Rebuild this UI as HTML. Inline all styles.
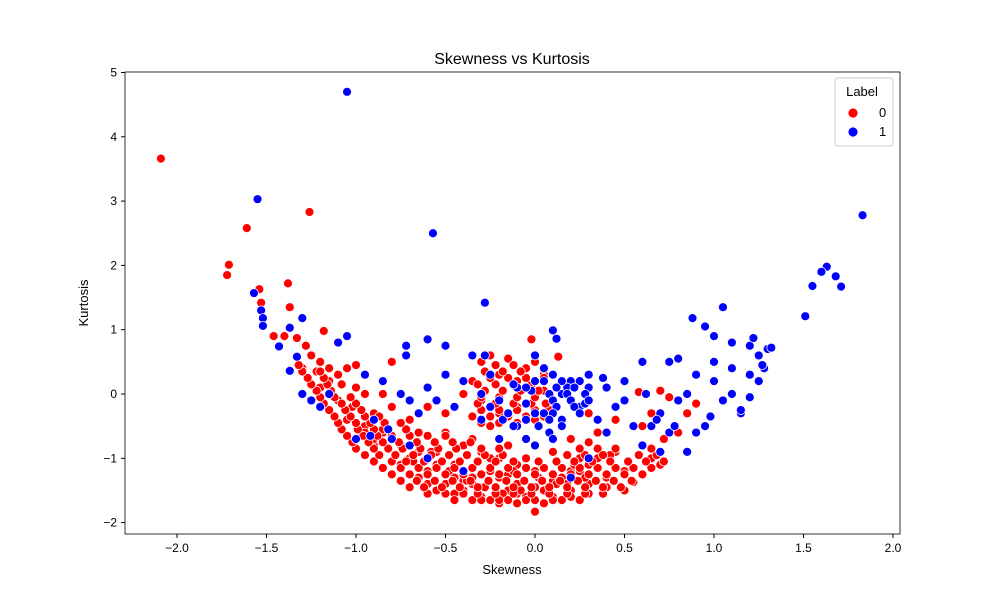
<!DOCTYPE html>
<html><head><meta charset="utf-8"><style>
body{margin:0;background:#fff;}
svg{display:block;font-family:"Liberation Sans","DejaVu Sans",sans-serif;}
</style></head><body>
<svg id="chart" width="1000" height="600">
<rect width="1000" height="600" fill="#fff"/>
<text x="512" y="64" text-anchor="middle" font-size="16">Skewness vs Kurtosis</text>
<g id="marks"></g>
<g id="axes"></g>
<text x="512" y="574" text-anchor="middle" font-size="13">Skewness</text>
<text x="88" y="303" text-anchor="middle" font-size="13" transform="rotate(-90 88 303)">Kurtosis</text>
<g>
<rect x="835" y="78" width="58" height="68" rx="3" fill="#fff" fill-opacity="0.8" stroke="#ccc"/>
<text x="862" y="96" text-anchor="middle" font-size="13">Label</text>
<g><circle cx="853" cy="113" r="5" fill="#ff0000" stroke="#fff" stroke-width="0.8"/><text x="879" y="117" font-size="13">0</text></g>
<g><circle cx="853" cy="132" r="5" fill="#0000ff" stroke="#fff" stroke-width="0.8"/><text x="879" y="136" font-size="13">1</text></g>
</g>
</svg>
<script>
const xTicks=[-2.0,-1.5,-1.0,-0.5,0.0,0.5,1.0,1.5,2.0];
const yTicks=[-2,-1,0,1,2,3,4,5];
const redX=[-2.09,-1.72,-1.71,-1.61,-1.26,-1.54,-1.53,-1.38,-1.37,-1.40,-1.46,-1.33,-1.28,-1.18,-1.25,-1.2,-1.15,-1.1,-1.22,-1.05,-1.0,-1.08,-1.0,-0.95,-1.02,-0.9,-0.95,-0.85,-0.8,-0.75,-0.7,-0.65,-0.6,-0.55,-0.5,-0.45,-0.4,-0.35,-0.3,-0.25,-0.2,-0.15,-0.1,-0.05,0.0,0.05,0.1,0.15,0.2,0.25,0.3,0.35,0.4,0.45,0.5,0.55,0.6,0.65,0.7,0.72,0.75,0.7,0.85,0.9,0.8,-0.3,-0.25,-0.2,-0.15,-0.1,-0.05,0.0,0.05,-0.02,0.13,-0.35,-0.4,-0.3,-0.2,-0.1,0.0,0.1,0.05,-0.25,-0.15,-0.05,0.1,0.2,-0.5,-0.6,-0.7,-0.8,-0.9,-0.75,-0.65,-0.55,-0.45,-0.35,-0.25,-0.1,0.05,0.2,0.3,0.4,0.5,-0.4,-0.3,-0.2,-0.1,0.0,-0.5,-0.85,-1.1,-1.3,-1.2,0.3,0.35,0.45,0.6,0.58,0.65,-0.6,-0.5,-0.4,-0.3,-0.2,-0.1,0.0,0.1,0.2,0.3,-0.7,-0.55,-0.45,-0.35,-0.15,0.15,0.25,0.35,-0.85,-0.95,-1.05,-0.65,-0.35,-0.25,-0.12,0.02,0.12,0.22,0.42,0.55,-0.48,-0.38,-0.28,-0.18,-0.08,0.08,0.18,0.28,-0.78,-0.68,-0.58,-0.9,-1.15];
const redY=[3.66,1.85,2.01,2.58,2.83,1.63,1.42,1.72,1.35,0.90,0.90,0.87,0.75,0.98,0.6,0.5,0.4,0.3,0.35,0.4,0.45,0.15,0.1,0.0,-0.2,-0.3,-0.5,-0.6,-0.2,-0.8,-1.0,-0.6,-1.2,-0.9,-1.4,-1.1,-1.5,-1.3,-1.6,-1.2,-1.7,-1.5,-1.4,-1.6,-1.83,-1.5,-1.6,-1.3,-1.5,-1.2,-1.4,-1.0,-1.3,-0.9,-1.2,-1.37,-0.8,-1.0,-1.1,-0.7,-0.05,0.05,-0.3,-0.15,-0.6,0.5,0.6,0.3,0.55,0.2,0.4,0.5,0.3,0.85,0.58,0.2,0.0,-0.1,-0.3,-0.2,-0.4,-0.1,0.05,-0.5,-0.8,-1.0,-0.9,-0.7,-0.3,-0.2,-0.4,0.5,-0.8,-1.1,-1.3,-1.5,-1.55,-1.4,-1.65,-1.7,-1.7,-1.6,-1.55,-1.45,-1.5,-0.8,-0.9,-1.0,-1.1,-1.2,-0.6,0.0,-0.1,0.4,0.1,-0.3,-0.6,-0.4,-0.5,0.03,-0.3,-1.4,-1.25,-1.35,-1.45,-1.3,-1.55,-1.45,-1.35,-1.2,-1.1,-1.25,-1.1,-1.3,-1.15,-1.25,-1.15,-1.0,-0.85,-0.55,-0.6,-0.4,-0.9,-0.7,-1.0,-1.2,-1.3,-1.4,-1.1,-0.95,-1.15,-1.2,-1.35,-1.45,-1.55,-1.5,-1.45,-1.4,-1.3,-0.95,-1.05,-0.9,-0.7,0.2];
// dense red band, stored row by row (kurtosis level -> skewness values)
const denseRedY=[-1.65,-1.55,-1.45,-1.35,-1.25,-1.15,-1.05,-0.95,-0.85,-0.75,-0.65,-0.55,-0.45,-0.35,-0.25,-0.15,-0.05,0.05,0.15,0.25,0.35,0.45];
const denseRedX=[
[-0.45,-0.35,-0.3,-0.2,-0.15,-0.05,0.0,0.1,0.15,0.25],
[-0.6,-0.5,-0.4,-0.32,-0.22,-0.12,-0.02,0.08,0.18,0.28,0.38],
[-0.7,-0.62,-0.52,-0.42,-0.32,-0.22,-0.12,-0.02,0.08,0.18,0.28,0.38,0.48],
[-0.75,-0.66,-0.56,-0.46,-0.36,-0.26,-0.16,-0.06,0.04,0.14,0.24,0.34,0.44,0.54],
[-0.8,-0.7,-0.6,-0.5,-0.4,-0.3,-0.2,-0.1,0.0,0.1,0.2,0.3,0.4,0.5,0.6],
[-0.85,-0.75,-0.65,-0.55,-0.45,-0.35,-0.25,-0.15,-0.05,0.05,0.15,0.25,0.35,0.45,0.55,0.65],
[-0.9,-0.8,-0.72,-0.62,-0.52,-0.42,-0.32,-0.22,-0.12,0.02,0.12,0.22,0.32,0.42,0.52,0.62,0.72],
[-0.95,-0.87,-0.78,-0.68,-0.58,-0.48,-0.38,-0.28,-0.18,0.18,0.28,0.38,0.58,0.68],
[-1.0,-0.9,-0.82,-0.74,-0.64,-0.54,-0.44,-0.3,-0.2,0.25,0.45,0.65],
[-1.02,-0.93,-0.85,-0.76,-0.66,-0.56,-0.46,-0.36,0.3],
[-1.05,-0.96,-0.88,-0.8,-0.7,-0.6,-0.5],
[-1.08,-0.99,-0.9,-0.82,-0.72],
[-1.1,-1.0,-0.92,-0.84,-0.75,-0.3,-0.2,-0.1],
[-1.12,-1.03,-0.95,-0.87,-0.35,-0.25,-0.15,-0.05,0.05],
[-1.15,-1.06,-0.97,-0.3,-0.2,-0.1,0.0,0.08],
[-1.18,-1.08,-1.0,-0.32,-0.22,-0.12,-0.02,0.06],
[-1.2,-1.12,-1.03,-0.3,-0.2,-0.1,0.0],
[-1.22,-1.14,-0.28,-0.18,-0.08,0.02],
[-1.25,-1.16,-0.32,-0.22,-0.12,-0.02],
[-1.27,-1.18,-0.25,-0.15,-0.05,0.05],
[-1.3,-1.2,-0.28,-0.18,-0.08],
[-1.32,-0.22,-0.12]];
const blueX=[-1.05,-1.55,-0.57,1.83,1.63,1.6,1.68,1.71,1.55,1.51,-0.28,-1.57,-1.53,-1.52,-1.52,-1.37,-1.3,-1.33,-1.37,-1.43,-1.05,-1.1,-0.72,-0.72,-0.5,-0.6,-1.15,-1.0,-0.9,-0.8,-0.7,-0.6,-0.5,-0.4,-0.3,-0.2,-0.1,0.0,0.1,0.15,0.2,0.25,0.3,0.35,0.1,0.12,0.0,-0.1,-0.2,0.05,0.4,0.5,0.5,0.6,0.55,0.6,0.65,0.7,0.75,0.8,0.85,0.9,0.88,0.95,1.0,1.05,1.1,1.2,1.22,1.25,1.3,1.32,1.2,1.25,1.15,1.1,1.05,1.0,0.95,0.9,0.85,1.2,1.28,0.7,0.3,0.2,-0.4,-0.6,-0.7,-0.3,-0.25,-0.35,-0.28,0.2,0.3,0.08,0.0,-0.15,-0.05,0.15,0.05,0.4,0.45,0.62,0.8,0.75,1.0,1.1,-0.95,-0.85,-0.75,-0.65,-0.45,-0.55,-1.25,-1.2,-1.3,-0.12,-0.02,0.18,0.28,0.38,-0.18,0.68,0.78,0.98,1.15,1.27,-0.82,-0.92,0.05,0.15,0.25,-0.05,0.12,0.22,0.08,0.18,0.28,0.1,0.2,0.3,-0.25,0.12,0.22,-0.15,0.0,0.1,0.25,-0.05,0.08,-0.12,0.02,0.15,-0.05,0.1];
const blueY=[4.7,3.03,2.5,2.78,1.98,1.9,1.83,1.67,1.68,1.21,1.42,1.57,1.3,1.18,1.06,1.03,1.18,0.58,0.36,0.74,0.9,0.8,0.75,0.6,0.75,0.85,0.0,-0.7,-0.4,-0.7,-0.1,0.1,0.3,0.2,0.0,-0.1,0.1,0.2,0.3,0.0,0.2,-0.2,0.1,-0.4,0.99,0.86,0.6,-0.5,-0.7,-0.3,-0.6,-0.1,0.2,0.5,-0.5,-0.8,-0.5,-0.3,-0.6,-0.1,0.0,0.3,1.18,1.05,0.9,1.35,0.8,0.75,0.87,0.6,0.7,0.72,0.3,0.2,-0.3,0.0,-0.1,0.2,-0.5,-0.6,-0.9,-0.05,0.4,-0.9,-1.0,-1.3,-1.2,-1.0,-0.8,-0.4,0.3,0.6,0.6,-0.1,0.3,-0.6,-0.8,-0.3,-0.15,-0.4,0.4,0.1,-0.2,0.0,0.55,0.5,0.5,0.4,0.3,0.2,0.0,-0.3,-0.2,-0.1,-0.1,-0.2,0.0,0.15,0.05,0.1,-0.15,0.25,-0.4,-0.4,-0.5,-0.35,-0.25,0.45,-0.55,-0.65,0.2,0.2,0.2,0.1,0.1,0.1,0.0,0.0,0.0,-0.1,-0.1,-0.1,-0.2,-0.2,-0.2,-0.3,-0.3,-0.3,-0.3,-0.4,-0.4,-0.5,-0.5,-0.5,-0.7,-0.7];

const L=125,R=900,T=72,B=534;
function sx(v){return 535+v*179;}
function sy(v){return 394-v*64.3;}
const NS='http://www.w3.org/2000/svg';
const marks=document.getElementById('marks');
const axes=document.getElementById('axes');
function pt(x,y,c,name){
  const e=document.createElementNS(NS,'circle');
  e.setAttribute('cx',sx(x));e.setAttribute('cy',sy(y));e.setAttribute('r',4.5);
  e.setAttribute('fill',c);e.setAttribute('stroke','#fff');e.setAttribute('stroke-width','0.8');
  
  
  marks.appendChild(e);
}
for(let i=0;i<redX.length;i++){pt(redX[i],redY[i],'#ff0000','point-label-0');}
for(let r=0;r<denseRedY.length;r++){for(let j=0;j<denseRedX[r].length;j++){pt(denseRedX[r][j],denseRedY[r],'#ff0000','point-label-0');}}
for(let i=0;i<blueX.length;i++){pt(blueX[i],blueY[i],'#0000ff','point-label-1');}
const frame=document.createElementNS(NS,'rect');
frame.setAttribute('x',L);frame.setAttribute('y',T);frame.setAttribute('width',R-L);frame.setAttribute('height',B-T);
frame.setAttribute('fill','none');frame.setAttribute('stroke','#000');frame.setAttribute('stroke-width','0.8');


axes.appendChild(frame);
function fmt(v,d){return (v<0?'\u2212':'')+Math.abs(v).toFixed(d);}
xTicks.forEach(v=>{
  const x=sx(v);
  const l=document.createElementNS(NS,'line');
  l.setAttribute('x1',x);l.setAttribute('x2',x);l.setAttribute('y1',B);l.setAttribute('y2',B+4);l.setAttribute('stroke','#000');
  
  
  axes.appendChild(l);
  const t=document.createElementNS(NS,'text');
  t.setAttribute('x',x);t.setAttribute('y',B+18);t.setAttribute('text-anchor','middle');t.setAttribute('font-size','12');
  t.textContent=fmt(v,1);
  
  
  axes.appendChild(t);
});
yTicks.forEach(v=>{
  const y=sy(v);
  const l=document.createElementNS(NS,'line');
  l.setAttribute('x1',L-4);l.setAttribute('x2',L);l.setAttribute('y1',y);l.setAttribute('y2',y);l.setAttribute('stroke','#000');
  
  
  axes.appendChild(l);
  const t=document.createElementNS(NS,'text');
  t.setAttribute('x',L-8);t.setAttribute('y',y+4);t.setAttribute('text-anchor','end');t.setAttribute('font-size','12');
  t.textContent=fmt(v,0);
  
  
  axes.appendChild(t);
});
</script>
</body></html>
